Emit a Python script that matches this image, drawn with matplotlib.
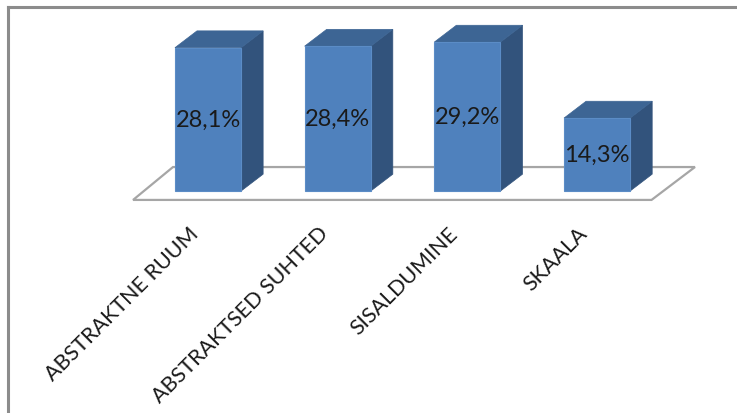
import matplotlib
matplotlib.use("Agg")
import matplotlib.pyplot as plt
from matplotlib.patches import Polygon
from matplotlib.lines import Line2D

# data
categories = ["ABSTRAKTNE RUUM", "ABSTRAKTSED SUHTED", "SISALDUMINE", "SKAALA"]
values = [28.1, 28.4, 29.2, 14.3]

# look of the 3d bars
front_col = "#4F81BD"
top_col = "#3D6594"
side_col = "#32537C"
half_w = 0.255      # half bar width (category units)
dep_x = 0.17        # depth offset of a bar, x
dep_y = 3.3         # depth offset of a bar, y (percent units)

fig = plt.figure(figsize=(7.37, 4.14), dpi=100)
ax = fig.add_axes([0, 0, 1, 1])
ax.set_xlim(-1.604, 4.079)
ax.set_ylim(-43.53, 37.65)
ax.axis("off")

# floor of the chart
n = len(values)
floor = Polygon([(-0.578, -1.75), (n - 1 + 0.42, -1.75),
                 (n - 1 + 0.755, 4.7), (-0.27, 4.7)],
                closed=True, facecolor="white", edgecolor="#A6A6A6", lw=1.6, zorder=1)
ax.add_patch(floor)

for i, v in enumerate(values):
    l, r = i - half_w, i + half_w
    side = Polygon([(r, 0), (r + dep_x, dep_y), (r + dep_x, v + dep_y), (r, v)],
                   facecolor=side_col, edgecolor=side_col, lw=0.5, zorder=2)
    top = Polygon([(l, v), (r, v), (r + dep_x, v + dep_y), (l + dep_x, v + dep_y)],
                  facecolor=top_col, edgecolor=top_col, lw=0.5, zorder=2)
    front = Polygon([(l, 0), (r, 0), (r, v), (l, v)],
                    facecolor=front_col, edgecolor="#5B8CC6", lw=0.8, zorder=3)
    for p in (side, top, front):
        ax.add_patch(p)
    lab = f"{v:.1f}%".replace(".", ",")
    ax.text(i, v / 2, lab, ha="center", va="center", fontsize=17,
            family="Lato", color="#1A1A1A", zorder=4)
    ax.text(i - 0.10, -7.6, categories[i], rotation=45, rotation_mode="anchor",
            ha="right", va="center", fontsize=15.5, family="Lato", color="#1A1A1A")

# frame (top and left edges only)
fig.add_artist(Line2D([8 / 737, 1], [1 - 8 / 414, 1 - 8 / 414], color="#8C8C8C", lw=2.2))
fig.add_artist(Line2D([8 / 737, 8 / 737], [0, 1 - 8 / 414], color="#8C8C8C", lw=2.2))

fig.savefig("out.png", dpi=100)
